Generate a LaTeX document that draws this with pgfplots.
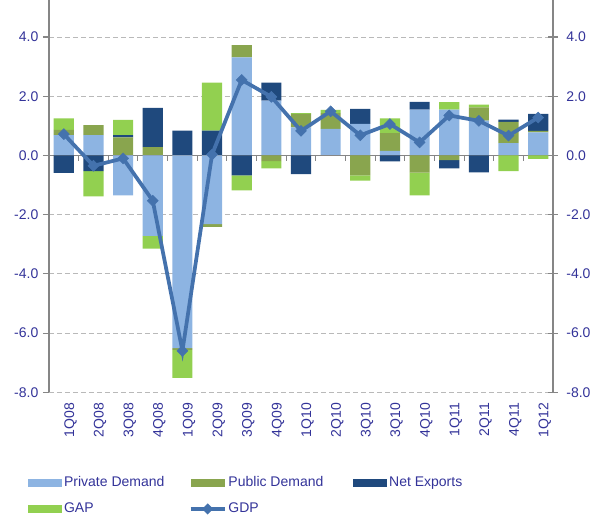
\documentclass[border=0pt]{standalone}
\usepackage{fontspec}
\setmainfont{Liberation Sans}
\usepackage{pgfplots}
\pgfplotsset{compat=1.18}
\usepackage{pgfplotstable}
\definecolor{privc}{RGB}{141,180,226}
\definecolor{pubc}{RGB}{137,165,78}
\definecolor{netc}{RGB}{31,73,125}
\definecolor{gapc}{RGB}{146,208,80}
\definecolor{gdpc}{RGB}{68,114,173}
\definecolor{txtc}{RGB}{51,51,153}
\definecolor{axc}{RGB}{134,134,134}
\definecolor{grc}{RGB}{185,185,185}

\pgfplotstableread{
x priv pub net gap
0 0.69 0.17 0 0.39
1 0.69 0.33 0 0
2 0 0.61 0.08 0.51
3 0 0.28 1.33 0
4 0 0 0.84 0
5 0 0 0.84 1.62
6 3.31 0.42 0 0
7 1.85 0 0.61 0
8 0.95 0.45 0 0.03
9 0.90 0.53 0 0.11
10 1.07 0 0.50 0
11 0.15 0.60 0 0.50
12 1.55 0 0.26 0
13 1.55 0 0 0.25
14 1.18 0.44 0 0.10
15 0.42 0.71 0.08 0
16 0.78 0.05 0.57 0
}\postab

\pgfplotstableread{
x priv pub net gap
0 0 0 -0.59 0
1 0 0 -0.53 -0.85
2 -1.35 0 0 0
3 -2.72 0 0 -0.43
4 -6.51 -0.06 0 -0.94
5 -2.32 -0.09 0 0
6 0 0 -0.67 -0.51
7 0 -0.19 0 -0.25
8 0 0 -0.63 0
9 0 0 0 0
10 0 -0.67 0 -0.18
11 0 0 -0.20 0
12 0 -0.58 0 -0.77
13 0 -0.16 -0.28 0
14 0 0 -0.57 0
15 0 0 0 -0.53
16 0 0 0 -0.12
}\negtab

\pgfplotstableread{
x gdp
0 0.72
1 -0.35
2 -0.10
3 -1.53
4 -6.60
5 0.03
6 2.55
7 1.98
8 0.83
9 1.49
10 0.68
11 1.06
12 0.44
13 1.35
14 1.17
15 0.67
16 1.28
}\gdptab

\pgfplotsset{
  common/.style={
    scale only axis, width=378pt, height=294.2pt,
    xmin=-0.5, xmax=16.5, ymin=-8, ymax=5.25,
    ytick={-8,-6,-4,-2,0,2,4},
    font=\fontsize{10.5}{12}\selectfont,
    tick label style={text=txtc},
    yticklabel style={/pgf/number format/fixed, /pgf/number format/fixed zerofill,
      /pgf/number format/precision=1, /pgf/number format/assume math mode=true},
    axis line style={draw=axc, line width=0.8pt},
    major tick length=4.5pt,
    every tick/.style={draw=axc, line width=0.8pt},
  },
  barstyle/.style={ybar stacked, bar width=0.68},
  barleg/.style={legend image code/.code={\fill[##1] (0pt,-3pt) rectangle (25.5pt,3pt);}},
  gdpleg/.style={legend image code/.code={\draw[gdpc, line width=2.8pt] (0pt,0pt) -- (25.5pt,0pt);
    \fill[gdpc] (12.75pt,2.2pt) -- (14.95pt,0pt) -- (12.75pt,-2.2pt) -- (10.55pt,0pt) -- cycle;}},
}

\begin{document}
\begin{tikzpicture}
\useasboundingbox (-36.75pt,-92.05pt) rectangle (419.25pt,294.2pt);
% Axis A: left axis, grid, labels, positive bars
\begin{axis}[common, barstyle,
  axis y line*=left, axis x line*=bottom,
  x axis line style={draw=none},
  xtick={0,...,16},
  xticklabels={1Q08,2Q08,3Q08,4Q08,1Q09,2Q09,3Q09,4Q09,1Q10,2Q10,3Q10,3Q10,4Q10,1Q11,2Q11,4Q11,1Q12},
  xticklabel style={rotate=90, anchor=east, yshift=-5pt},
  major x tick style={draw=none},
  tick align=outside,
  ymajorgrids,
  grid style={draw=grc, line width=0.75pt, dash pattern=on 3.75pt off 2.25pt},
]
\addplot[fill=privc, draw=none] table[x=x,y=priv]{\postab};
\addplot[fill=pubc, draw=none] table[x=x,y=pub]{\postab};
\addplot[fill=netc, draw=none] table[x=x,y=net]{\postab};
\addplot[fill=gapc, draw=none] table[x=x,y=gap]{\postab};
\end{axis}
% Axis B: right axis, negative bars, zero line
\begin{axis}[common, barstyle,
  axis y line*=right, axis x line=none,
  yticklabel pos=right,
  yticklabel style={xshift=3pt},
  tick align=center, major tick length=7pt,
]
\addplot[fill=privc, draw=none] table[x=x,y=priv]{\negtab};
\addplot[fill=pubc, draw=none] table[x=x,y=pub]{\negtab};
\addplot[fill=netc, draw=none] table[x=x,y=net]{\negtab};
\addplot[fill=gapc, draw=none] table[x=x,y=gap]{\negtab};
\draw[axc, line width=1pt] (axis cs:-0.5,0) -- (axis cs:16.5,0);
\pgfplotsinvokeforeach{0.5,1.5,...,15.5}{
  \draw[axc, line width=0.8pt] (axis cs:#1,0) -- ++(0pt,-4pt);
}
\end{axis}
% Axis C: GDP line and legend
\begin{axis}[common, hide axis,
  legend columns=3,
  legend cell align=left,
  legend style={at={(axis description cs:-0.042,-0.209)}, anchor=north west,
    draw=none, fill=none, text=txtc, font=\fontsize{10.5}{12}\selectfont,
    inner sep=0pt, row sep=7.8pt,
    nodes={inner sep=1.5pt}},
]
\addlegendimage{fill=privc, draw=none, barleg}
\addlegendentry{\makebox[92pt][l]{Private Demand}}
\addlegendimage{fill=pubc, draw=none, barleg}
\addlegendentry{\makebox[92pt][l]{Public Demand}}
\addlegendimage{fill=netc, draw=none, barleg}
\addlegendentry{\makebox[92pt][l]{Net Exports}}
\addlegendimage{fill=gapc, draw=none, barleg}
\addlegendentry{\makebox[92pt][l]{GAP}}
\addplot[gdpc, line width=2.8pt, mark=square*, mark size=2.9pt,
  mark options={solid, rotate=45, line width=0.4pt, fill=gdpc}, gdpleg]
  table[x=x,y=gdp]{\gdptab};
\addlegendentry{\makebox[92pt][l]{GDP}}
\end{axis}
\end{tikzpicture}
\end{document}
